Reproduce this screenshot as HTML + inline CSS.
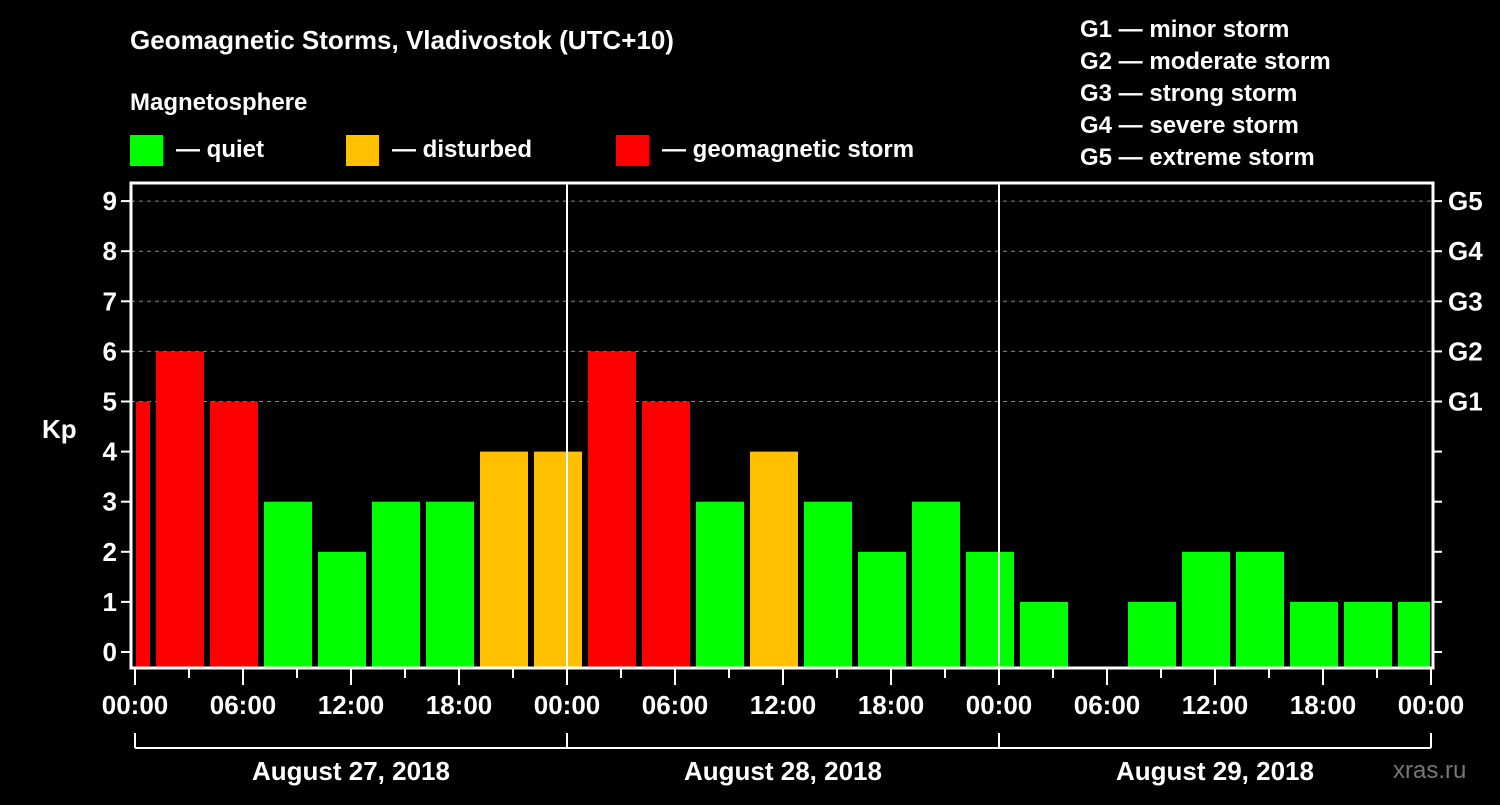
<!DOCTYPE html>
<html><head><meta charset="utf-8"><style>
body{margin:0;background:#000;}
svg text{font-family:"Liberation Sans",sans-serif;font-weight:bold;fill:#fff;}
</style></head><body>
<svg id="chart" width="1500" height="800" xmlns="http://www.w3.org/2000/svg">
<rect width="1500" height="800" fill="#000"/>
<text x="130" y="49" font-size="26">Geomagnetic Storms, Vladivostok (UTC+10)</text>
<text x="130" y="110" font-size="24">Magnetosphere</text>
<g>
<rect x="130" y="135" width="33" height="31" fill="#00ff00"/><text x="176" y="157" font-size="24">— quiet</text>
<rect x="346" y="135" width="33" height="31" fill="#ffc000"/><text x="392" y="157" font-size="24">— disturbed</text>
<rect x="616" y="135" width="33" height="31" fill="#ff0000"/><text x="662" y="157" font-size="24">— geomagnetic storm</text>
</g>
<g font-size="24">
<text x="1080" y="37">G1 — minor storm</text>
<text x="1080" y="69">G2 — moderate storm</text>
<text x="1080" y="101">G3 — strong storm</text>
<text x="1080" y="133">G4 — severe storm</text>
<text x="1080" y="165">G5 — extreme storm</text>
</g>
<text x="42" y="438" font-size="26">Kp</text>
<text x="1393" y="778" font-size="24" fill="#666" style="fill:#777;font-weight:normal">xras.ru</text>
<g id="grid"></g><g id="bars"></g><g id="axes"></g>
</svg>
<script>
const kpValues=[5,6,5,3,2,3,3,4,4,6,5,3,4,3,2,3,2,1,0,1,2,2,1,1,1];
const startHours=[-2,1,4,7,10,13,16,19,22,25,28,31,34,37,40,43,46,49,52,55,58,61,64,67,70];
const dayLabels=["August 27, 2018","August 28, 2018","August 29, 2018"];
const hourLabels=["00:00","06:00","12:00","18:00"];
const gLabels=["G1","G2","G3","G4","G5"];
const NS="http://www.w3.org/2000/svg";
const X0=135,PXH=18,Y0=652,PXK=50.1,LEFT=131,RIGHT=1433,TOP=183,BOT=668;
const xs=h=>X0+h*PXH, ys=k=>Y0-k*PXK;
function mk(tag,attrs,parent){const e=document.createElementNS(NS,tag);for(const k in attrs)e.setAttribute(k,attrs[k]);parent.appendChild(e);return e;}
const grid=document.getElementById('grid'),bars=document.getElementById('bars'),axes=document.getElementById('axes');
for(let k=5;k<=9;k++){const l=mk('line',{x1:LEFT,x2:RIGHT,y1:ys(k),y2:ys(k),stroke:'#888','stroke-dasharray':'4,4'},grid);

}
kpValues.forEach((v,i)=>{
 const s=startHours[i];let x1=Math.max(xs(s)+3,LEFT+5),x2=Math.min(xs(s+3)-3,RIGHT-3);
 const c=v>=5?'#ff0000':(v>=4?'#ffc000':'#00ff00');
 if(v<=0)return;
 const r=mk('rect',{x:x1,y:ys(v),width:x2-x1,height:BOT-ys(v),fill:c},bars);
 
 
});
[1,2].forEach(d=>{const l=mk('line',{x1:xs(24*d),x2:xs(24*d),y1:TOP,y2:BOT,stroke:'#fff','stroke-width':2},axes);

});
const fr=mk('rect',{x:LEFT,y:TOP,width:RIGHT-LEFT,height:BOT-TOP,fill:'none',stroke:'#fff','stroke-width':3},axes);


for(let k=0;k<=9;k++){
 mk('line',{x1:LEFT-10,x2:LEFT,y1:ys(k),y2:ys(k),stroke:'#fff','stroke-width':2},axes);
 mk('line',{x1:RIGHT,x2:RIGHT+9,y1:ys(k),y2:ys(k),stroke:'#fff','stroke-width':2},axes);
 const t=mk('text',{x:LEFT-14,y:ys(k)+9,'font-size':26,'text-anchor':'end'},axes);t.textContent=k;
 
 
}
gLabels.forEach((g,i)=>{const t=mk('text',{x:1448,y:ys(i+5)+9,'font-size':26},axes);t.textContent=g;

});
for(let h=0;h<=72;h+=3){const len=h%6===0?17:10;
 mk('line',{x1:xs(h),x2:xs(h),y1:BOT,y2:BOT+len,stroke:'#fff','stroke-width':2},axes);}
for(let h=0;h<=72;h+=6){const t=mk('text',{x:xs(h),y:714,'font-size':26,'text-anchor':'middle'},axes);
 t.textContent=hourLabels[(h/6)%4];
 
 }
mk('line',{x1:xs(0),x2:xs(72),y1:748,y2:748,stroke:'#fff','stroke-width':2},axes);
for(let d=0;d<=3;d++)mk('line',{x1:xs(24*d),x2:xs(24*d),y1:733,y2:748,stroke:'#fff','stroke-width':2},axes);
dayLabels.forEach((s,d)=>{const t=mk('text',{x:xs(24*d+12),y:780,'font-size':26,'text-anchor':'middle'},axes);t.textContent=s;

});
</script>
</body></html>
